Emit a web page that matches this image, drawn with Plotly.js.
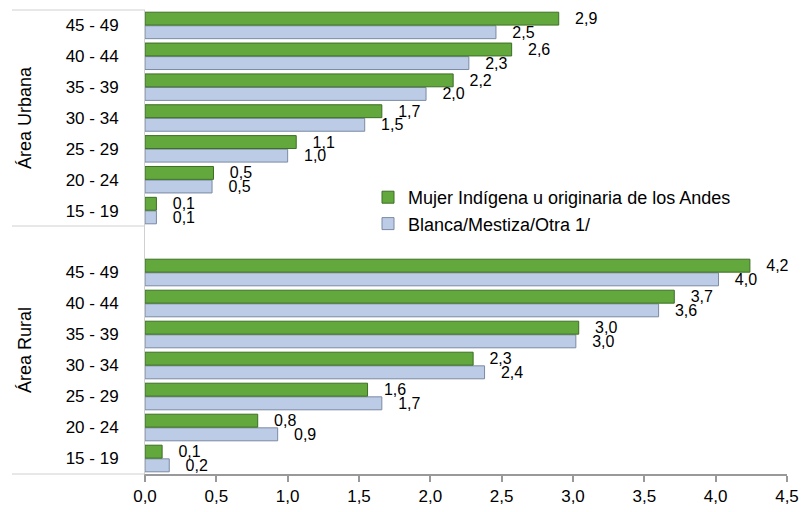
<!DOCTYPE html>
<html>
<head>
<meta charset="utf-8">
<script src="https://cdn.plot.ly/plotly-3.0.1.min.js"></script>
<style>html,body{margin:0;padding:0;background:#fff;}#chart{width:802px;height:512px;}</style>
</head>
<body>
<div id="chart"></div>
<script>
// Categories (bottom to top)
var ageGroups = ['15 - 19', '20 - 24', '25 - 29', '30 - 34', '35 - 39', '40 - 44', '45 - 49'];
var seriesNames = ['Mujer Indígena u originaria de los Andes', 'Blanca/Mestiza/Otra 1/'];
var areaNames = ['Área Urbana', 'Área Rural'];

// Values
var urbanIndigena = [0.08, 0.48, 1.06, 1.66, 2.16, 2.57, 2.90];
var urbanBlanca   = [0.08, 0.47, 1.00, 1.54, 1.97, 2.27, 2.46];
var ruralIndigena = [0.12, 0.79, 1.56, 2.30, 3.04, 3.71, 4.24];
var ruralBlanca   = [0.17, 0.93, 1.66, 2.38, 3.02, 3.60, 4.02];

var xTicks = [0, 0.5, 1, 1.5, 2, 2.5, 3, 3.5, 4, 4.5];

var FONT = '"Liberation Sans Narrow", "Arial Narrow", "Liberation Sans", Arial, sans-serif';
var green = '#62a83c', greenLine = '#3d6e25';
var blue = '#bccbe6', blueLine = '#7b8aa3';

function barTrace(vals, yaxis, name, color, lineColor, showLegend, rank) {
  return {
    type: 'bar', orientation: 'h',
    x: vals, y: ageGroups, yaxis: yaxis, xaxis: 'x',
    name: name, showlegend: showLegend, legendrank: rank,
    marker: {color: color, line: {color: lineColor, width: 1}},
    texttemplate: '\u00a0\u00a0\u00a0%{x:.1f}',
    textposition: 'outside', cliponaxis: false, constraintext: 'none',
    textfont: {family: FONT, size: 16, color: '#000'},
    hoverinfo: 'x+y'
  };
}

var data = [
  barTrace(urbanBlanca, 'y', seriesNames[1], blue, blueLine, true, 2),
  barTrace(urbanIndigena, 'y', seriesNames[0], green, greenLine, true, 1),
  barTrace(ruralBlanca, 'y2', seriesNames[1], blue, blueLine, false, 2),
  barTrace(ruralIndigena, 'y2', seriesNames[0], green, greenLine, false, 1)
];

var plotTop = 10, plotBottom = 474, plotH = plotBottom - plotTop;
var sepY = (plotBottom - 226) / plotH;
var leftX = (12 - 145) / 642;

var layout = {
  width: 802, height: 512,
  margin: {l: 145, r: 15, t: 10, b: 38},
  paper_bgcolor: '#fff', plot_bgcolor: '#fff',
  separators: ',.',
  barmode: 'group', bargap: 0.12, bargroupgap: 0.05,
  font: {family: FONT, size: 17, color: '#000'},
  xaxis: {
    anchor: 'y2', range: [0, 4.5], tickvals: xTicks, tickformat: '.1f',
    showgrid: false, zeroline: false, showline: true, linecolor: '#999', linewidth: 2,
    ticks: 'outside', ticklen: 6, tickcolor: '#999', tickwidth: 2,
    tickfont: {family: FONT, size: 17, color: '#000'}
  },
  yaxis: {
    domain: [sepY, 1], anchor: 'x', type: 'category', range: [-0.5, 6.5],
    showgrid: false, zeroline: false, showline: true, linecolor: '#d0d0d0', linewidth: 1,
    ticks: '', ticklabelstandoff: 22, tickfont: {family: FONT, size: 17, color: '#000'}
  },
  yaxis2: {
    domain: [0, sepY], anchor: 'x', type: 'category', range: [-0.5, 7.5],
    showgrid: false, zeroline: false, showline: true, linecolor: '#d0d0d0', linewidth: 1,
    ticks: '', ticklabelstandoff: 22, tickfont: {family: FONT, size: 17, color: '#000'}
  },
  legend: {
    x: (368 - 145) / 642, y: (plotBottom - 179) / plotH, xanchor: 'left', yanchor: 'top',
    bgcolor: 'rgba(0,0,0,0)', font: {family: FONT, size: 18, color: '#000'},
    itemwidth: 30, traceorder: 'normal', tracegroupgap: 0
  },
  shapes: [
    {type: 'line', xref: 'paper', yref: 'paper', x0: leftX, x1: 0, y0: 1, y1: 1, line: {color: '#d0d0d0', width: 1}},
    {type: 'line', xref: 'paper', yref: 'paper', x0: leftX, x1: 0, y0: sepY, y1: sepY, line: {color: '#d0d0d0', width: 1}},
    {type: 'line', xref: 'paper', yref: 'paper', x0: leftX, x1: 0, y0: 0, y1: 0, line: {color: '#d0d0d0', width: 1}}
  ],
  annotations: [
    {text: areaNames[0], xref: 'paper', yref: 'paper', x: (25 - 145) / 642, y: (1 + sepY) / 2,
     textangle: -90, showarrow: false, xanchor: 'center', yanchor: 'middle',
     font: {family: FONT, size: 18, color: '#000'}},
    {text: areaNames[1], xref: 'paper', yref: 'paper', x: (25 - 145) / 642, y: sepY / 2,
     textangle: -90, showarrow: false, xanchor: 'center', yanchor: 'middle',
     font: {family: FONT, size: 18, color: '#000'}}
  ]
};

Plotly.newPlot('chart', data, layout, {displayModeBar: false, staticPlot: true});
</script>
</body>
</html>
